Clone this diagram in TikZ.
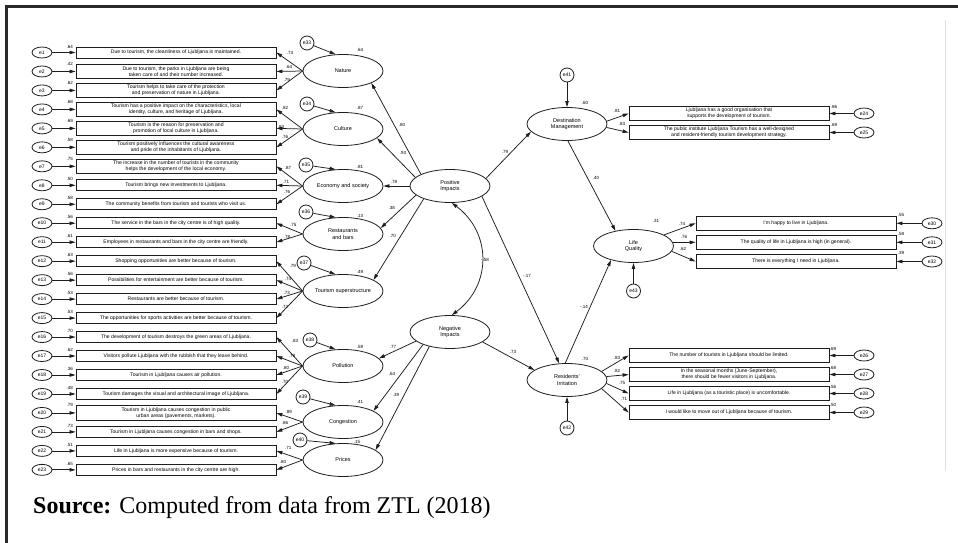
\documentclass[tikz,border=0pt]{standalone}
\usepackage{fontspec}
\setmainfont{Liberation Sans}
\newfontfamily\srcfont{Liberation Serif}
\usetikzlibrary{arrows.meta,shapes.geometric}
\definecolor{ink}{HTML}{1E1E1E}
\definecolor{framec}{HTML}{2A2A2A}

\newcommand\leftitem[3]{%
  \pgfmathsetmacro\yy{52.5+(#1-1)*18.97}%
  \node[errell] (e#1) at (42,\yy) {e#1};
  \node[itembox] (b#1) at (176,\yy) {#3};
  \draw[arr] (e#1) -- (b#1);
  \node[num, anchor=east] at ([xshift=-2.5pt]b#1.north west) {#2};
}

\begin{document}
\begin{tikzpicture}[x=1pt,y=-1pt,
  arr/.style={-{Triangle[length=6pt,width=3.4pt]}, line width=0.75pt, draw=ink},
  barr/.style={{Triangle[length=6pt,width=3.4pt]}-{Triangle[length=6pt,width=3.4pt]}, line width=0.75pt, draw=ink},
  itembox/.style={draw=ink, line width=0.8pt, minimum width=200pt, minimum height=11pt, inner xsep=1pt, inner ysep=2pt, align=center, font=\fontsize{5.1}{5.9}\selectfont},
  rbox/.style={itembox, minimum height=14.5pt},
  latent/.style={ellipse, draw=ink, line width=0.8pt, minimum width=80pt, minimum height=33pt, inner sep=0pt, align=center, font=\fontsize{5.5}{6.6}\selectfont},
  errell/.style={ellipse, draw=ink, line width=0.8pt, minimum width=20pt, minimum height=11pt, inner sep=0pt, font=\fontsize{5}{6}\selectfont},
  errcirc/.style={circle, draw=ink, line width=0.8pt, minimum size=14pt, inner sep=0pt, font=\fontsize{5}{6}\selectfont},
  num/.style={inner sep=0pt, font=\fontsize{4.5}{5}\selectfont}
]
\useasboundingbox (0,0) rectangle (958,543);
\fill[white] (0,0) rectangle (958,543);
% frame
\draw[framec, line width=3pt] (6,543) -- (6,7) -- (958,7);
\draw[black!12, line width=0.8pt] (945,20) -- (945,470);

% ---------- left indicators ----------
\leftitem{1}{.64}{Due to tourism, the cleanliness of Ljubljana is maintained.}
\leftitem{2}{.42}{Due to tourism, the parks in Ljubljana are being\\taken care of and their number increased.}
\leftitem{3}{.62}{Tourism helps to take care of the protection\\and preservation of nature in Ljubljana.}
\leftitem{4}{.68}{Tourism has a positive impact on the characteristics, local\\identity, culture, and heritage of Ljubljana.}
\leftitem{5}{.69}{Tourism is the reason for preservation and\\promotion of local culture in Ljubljana.}
\leftitem{6}{.58}{Tourism positively influences the cultural awareness\\and pride of the inhabitants of Ljubljana.}
\leftitem{7}{.75}{The increase in the number of tourists in the community\\helps the development of the local economy.}
\leftitem{8}{.50}{Tourism brings new investments to Ljubljana.}
\leftitem{9}{.58}{The community benefits from tourism and tourists who visit us.}
\leftitem{10}{.56}{The service in the bars in the city centre is of high quality.}
\leftitem{11}{.61}{Employees in restaurants and bars in the city centre are friendly.}
\leftitem{12}{.63}{Shopping opportunities are better because of tourism.}
\leftitem{13}{.56}{Possibilities for entertainment are better because of tourism.}
\leftitem{14}{.53}{Restaurants are better because of tourism.}
\leftitem{15}{.53}{The opportunities for sports activities are better because of tourism.}
\leftitem{16}{.70}{The development of tourism destroys the green areas of Ljubljana.}
\leftitem{17}{.62}{Visitors pollute Ljubljana with the rubbish that they leave behind.}
\leftitem{18}{.36}{Tourism in Ljubljana causes air pollution.}
\leftitem{19}{.48}{Tourism damages the visual and architectural image of Ljubljana.}
\leftitem{20}{.79}{Tourism in Ljubljana causes congestion in public\\urban areas (pavements, markets).}
\leftitem{21}{.73}{Tourism in Ljubljana causes congestion in bars and shops.}
\leftitem{22}{.51}{Life in Ljubljana is more expensive because of tourism.}
\leftitem{23}{.65}{Prices in bars and restaurants in the city centre are high.}

% ---------- latent variables ----------
\node[latent] (nat) at (343,71) {Nature};
\node[latent] (cul) at (343,129) {Culture};
\node[latent] (eco) at (343,186) {Economy and society};
\node[latent] (res) at (343,234) {Restaurants\\and bars};
\node[latent] (ts)  at (343,291) {Tourism superstructure};
\node[latent] (pol) at (343,366) {Pollution};
\node[latent] (con) at (343,422) {Congestion};
\node[latent] (pri) at (343,460) {Prices};
\node[latent] (pi)  at (450,186) {Positive\\Impacts};
\node[latent] (ni)  at (450,332) {Negative\\Impacts};
\node[latent] (dm)  at (567,124) {Destination\\Management};
\node[latent] (lq)  at (633.5,246) {Life\\Quality};
\node[latent] (ri)  at (567,380) {Residents'\\Irritation};

% latent error terms
\node[errcirc] (e33) at (307,43) {e33};
\node[errcirc] (e34) at (307,104) {e34};
\node[errcirc] (e35) at (306,165) {e35};
\node[errcirc] (e36) at (306,212) {e36};
\node[errcirc] (e37) at (304,263) {e37};
\node[errcirc] (e38) at (310,340) {e38};
\node[errcirc] (e39) at (303,397) {e39};
\node[errcirc] (e40) at (300,440) {e40};
\node[errcirc] (e41) at (567,75) {e41};
\node[errcirc] (e42) at (567,428) {e42};
\node[errcirc] (e43) at (633.5,291) {e43};
\foreach \e/\l in {e33/nat,e34/cul,e35/eco,e36/res,e37/ts,e38/pol,e39/con,e40/pri}
  \draw[arr] (\e) -- (\l.114);
\draw[arr] (e41) -- (dm);
\draw[arr] (e42) -- (ri);
\draw[arr] (e43) -- (lq);

% latent -> left indicators
\foreach \l/\b in {nat/1,nat/2,nat/3,cul/4,cul/5,cul/6,eco/7,eco/8,eco/9,res/10,res/11,
  ts/12,ts/13,ts/14,ts/15,pol/16,pol/17,pol/18,pol/19,con/20,con/21,pri/22,pri/23}
  \draw[arr] (\l.west) -- (b\b.east);

% structural paths
\draw[arr] (pi.158) -- (nat.-23);
\draw[arr] (pi.166) -- (cul.-15);
\draw[arr] (pi.west) -- (eco.east);
\draw[arr] (pi.195) -- (res.9);
\draw[arr] (pi.206) -- (ts.20);
\draw[arr] (pi.12) -- (dm.192);
\draw[arr] (pi.-18) -- (ri.115);
\draw[arr] (ni.195) -- (pol.12);
\draw[arr] (ni.205) -- (con.20);
\draw[arr] (ni.215) -- (pri.17);
\draw[arr] (ni.-17) -- (ri.163);
\draw[arr] (dm.273) -- (lq.140);
\draw[arr] (ri.96) -- (lq.212);
\draw[barr] (pi.-84) .. controls +(40,30) and +(40,-30) .. (ni.84);

% ---------- right indicators ----------
\node[rbox] (d1) at (729,113.5) {Ljubljana has a good organisation that\\supports the development of tourism.};
\node[rbox] (d2) at (729,132.5) {The public institute Ljubljana Tourism has a well-designed\\and resident-friendly tourism development strategy.};
\node[rbox] (q1) at (796,223.3) {I'm happy to live in Ljubljana.};
\node[rbox] (q2) at (796,242.3) {The quality of life in Ljubljana is high (in general).};
\node[rbox] (q3) at (796,261.5) {There is everything I need in Ljubljana.};
\node[rbox] (r1) at (729,355.5) {The number of tourists in Ljubljana should be limited.};
\node[rbox] (r2) at (729,374.5) {In the seasonal months (June-September),\\there should be fewer visitors in Ljubljana.};
\node[rbox] (r3) at (729,393.5) {Life in Ljubljana (as a touristic place) is uncomfortable.};
\node[rbox] (r4) at (729,412.5) {I would like to move out of Ljubljana because of tourism.};

\node[errell] (e24) at (864,113.5) {e24};
\node[errell] (e25) at (864,132.5) {e25};
\node[errell] (e30) at (932,223.3) {e30};
\node[errell] (e31) at (932,242.3) {e31};
\node[errell] (e32) at (932,261.5) {e32};
\node[errell] (e26) at (864,355.5) {e26};
\node[errell] (e27) at (864,374.5) {e27};
\node[errell] (e28) at (864,393.5) {e28};
\node[errell] (e29) at (864,412.5) {e29};
\foreach \e/\b in {e24/d1,e25/d2,e30/q1,e31/q2,e32/q3,e26/r1,e27/r2,e28/r3,e29/r4}
  \draw[arr] (\e) -- (\b.east);

\draw[arr] (dm.4) -- (d1.west);
\draw[arr] (dm.-5) -- (d2.west);
\draw[arr] (lq.20) -- (q1.west);
\draw[arr] (lq.5) -- (q2.west);
\draw[arr] (lq.-8) -- (q3.west);
\draw[arr] (ri.14) -- (r1.west);
\draw[arr] (ri.5) -- (r2.west);
\draw[arr] (ri.-5) -- (r3.west);
\draw[arr] (ri.-14) -- (r4.west);

% ---------- coefficient labels ----------
\foreach \x/\y/\t in {
  290/53.3/.74, 289/66.7/.64, 286.7/80/.79,
  285/108.3/.82, 281/126.7/.83, 285/137.3/.76,
  288/167.7/.87, 286/182.3/.71, 287/191.7/.76,
  293.3/225/.75, 287/236.7/.78,
  292.7/266/.79, 288/279.3/.74, 286.7/293.3/.73, 285/306.7/.72,
  295/340.7/.83, 292/356/.79, 286/368.3/.80, 285/381.7/.70,
  288.7/412.3/.89, 285/423.3/.86,
  288.3/448.3/.71, 283/461.7/.80,
  360/50/.64, 360/108/.87, 360/167/.81, 360/216/.13, 360/272/.49,
  360/347/.59, 360/402/.41, 357/442/.15,
  402/125/.80, 403/153/.93, 394/181.7/.78, 391.7/207.7/.38, 392.7/236/.70,
  505/152/.79, 527/276/-.17, 485/260/-.58,
  393/347/.77, 392/374/.64, 396/395/.39, 513/352/.73,
  596/178/.40, 584/307/-.14,
  585/103/.60, 656/221/.31, 585/359/.70,
  617/111/.81, 622/124/.83,
  682/224/.74, 684/237/.76, 683/249/.62,
  617/358/.83, 617/371/.82, 622/383/.75, 624/399/.71,
  834/107/.86, 834/125/.69,
  901/215/.55, 901/234/.58, 901/253/.39,
  833/349/.69, 833/368/.68, 833/387/.56, 833/405/.50}
  \node[num] at (\x,\y) {\t};

% ---------- source ----------
\node[anchor=west, inner sep=0pt, font=\srcfont\fontsize{24}{27}\selectfont] (src) at (33,508)
  {\textbf{Source:} Computed from data from ZTL (2018)};
\end{tikzpicture}
\end{document}
